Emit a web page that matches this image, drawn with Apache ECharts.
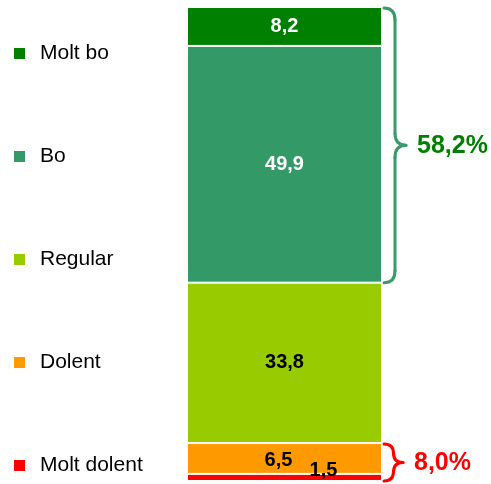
<!DOCTYPE html>
<html>
<head>
<meta charset="utf-8">
<script src="https://cdn.jsdelivr.net/npm/echarts@6/dist/echarts.min.js"></script>
<style>
  html, body { margin: 0; padding: 0; background: #fff; }
  #main { width: 491px; height: 484px; }
</style>
</head>
<body>
<div id="main"></div>
<script>
// categories, bottom of the stack first
const categories = ['Molt dolent', 'Dolent', 'Regular', 'Bo', 'Molt bo'];
const values = [1.5, 6.5, 33.8, 49.9, 8.2];
const colors = ['#ff0000', '#ff9900', '#99cc00', '#339966', '#008000'];
const labelColors = ['#000', '#000', '#000', '#fff', '#fff'];
const labelOffsets = [[39, -7], [-6, 2], [0, 0], [0, 0], [0, 0]];

// legend reads top to bottom
const legendOrder = ['Molt bo', 'Bo', 'Regular', 'Dolent', 'Molt dolent'];

// brace groups: which stack range they cover and the text beside them
const braceFrom = [3, 0];    // first category index of the group
const braceTo = [4, 1];      // last category index
const braceText = ['58,2%', '8,0%'];
const braceColors = ['#3a9a6a', '#ff0000'];
const braceTextColors = ['#008000', '#ff0000'];

const FONT = 'Liberation Sans, Arial, sans-serif';
const total = values.reduce((a, b) => a + b, 0);

const chart = echarts.init(document.getElementById('main'));

const series = categories.map((name, i) => ({
  name: name,
  type: 'bar',
  stack: 'total',
  barWidth: '100%',
  data: [values[i]],
  itemStyle: {color: colors[i], borderColor: '#fff', borderWidth: 1},
  label: {
    show: true,
    position: 'inside',
    offset: labelOffsets[i],
    color: labelColors[i],
    fontFamily: FONT,
    fontWeight: 'bold',
    fontSize: 20,
    formatter: p => String(p.value).replace('.', ',')
  }
}));

chart.setOption({
  animation: false,
  grid: {left: 187, right: 109, top: 7, bottom: 3},
  xAxis: {type: 'category', data: ['total'], show: false},
  yAxis: {type: 'value', min: 0, max: total, show: false},
  legend: {
    orient: 'vertical',
    left: 14,
    top: 43,
    padding: 0,
    data: legendOrder,
    icon: 'rect',
    itemWidth: 11,
    itemHeight: 11,
    itemGap: 82,
    itemStyle: {borderWidth: 0},
    selectedMode: false,
    textStyle: {
      fontFamily: FONT,
      fontSize: 21,
      color: '#000',
      lineHeight: 20,
      padding: [0, 0, 0, 10]
    }
  },
  series: series
});

// curly brace built from quadratic curves and straight lines
function braceParts(x0, y0, y1, w, r, color) {
  const xm = x0 + w / 2;
  const ym = (y0 + y1) / 2;
  const st = {fill: null, stroke: color, lineWidth: 3, lineCap: 'round'};
  const curve = (a, b, c, d, e, f) => ({
    type: 'bezierCurve',
    shape: {x1: a, y1: b, cpx1: c, cpy1: d, x2: e, y2: f},
    style: st
  });
  const line = (a, b, c, d) => ({
    type: 'line',
    shape: {x1: a, y1: b, x2: c, y2: d},
    style: st
  });
  return [
    curve(x0, y0, xm, y0, xm, y0 + r),
    line(xm, y0 + r, xm, ym - r),
    curve(xm, ym - r, xm, ym, x0 + w, ym),
    curve(x0 + w, ym, xm, ym, xm, ym + r),
    line(xm, ym + r, xm, y1 - r),
    curve(xm, y1 - r, xm, y1, x0, y1)
  ];
}

function stackTop(idx) {
  let s = 0;
  for (let i = 0; i <= idx; i++) s += values[i];
  return s;
}

const graphics = [];
braceText.forEach((txt, k) => {
  const lo = braceFrom[k] > 0 ? stackTop(braceFrom[k] - 1) : 0;
  const hi = stackTop(braceTo[k]);
  const yTop = chart.convertToPixel({gridIndex: 0}, [0, hi])[1];
  const yBot = chart.convertToPixel({gridIndex: 0}, [0, lo])[1];
  const h = yBot - yTop;
  const w = k === 0 ? 22 : 19;
  const r = Math.min(12, h / 4);
  const x0 = 384;
  braceParts(x0, yTop + 1, yBot, w, r, braceColors[k]).forEach(g => graphics.push(g));
  graphics.push({
    type: 'text',
    x: x0 + w + 11,
    y: (yTop + yBot) / 2 + 1,
    style: {
      text: txt,
      fill: braceTextColors[k],
      font: 'bold 25px ' + FONT,
      verticalAlign: 'middle',
      align: 'left'
    }
  });
});

chart.setOption({graphic: graphics});
</script>
</body>
</html>
